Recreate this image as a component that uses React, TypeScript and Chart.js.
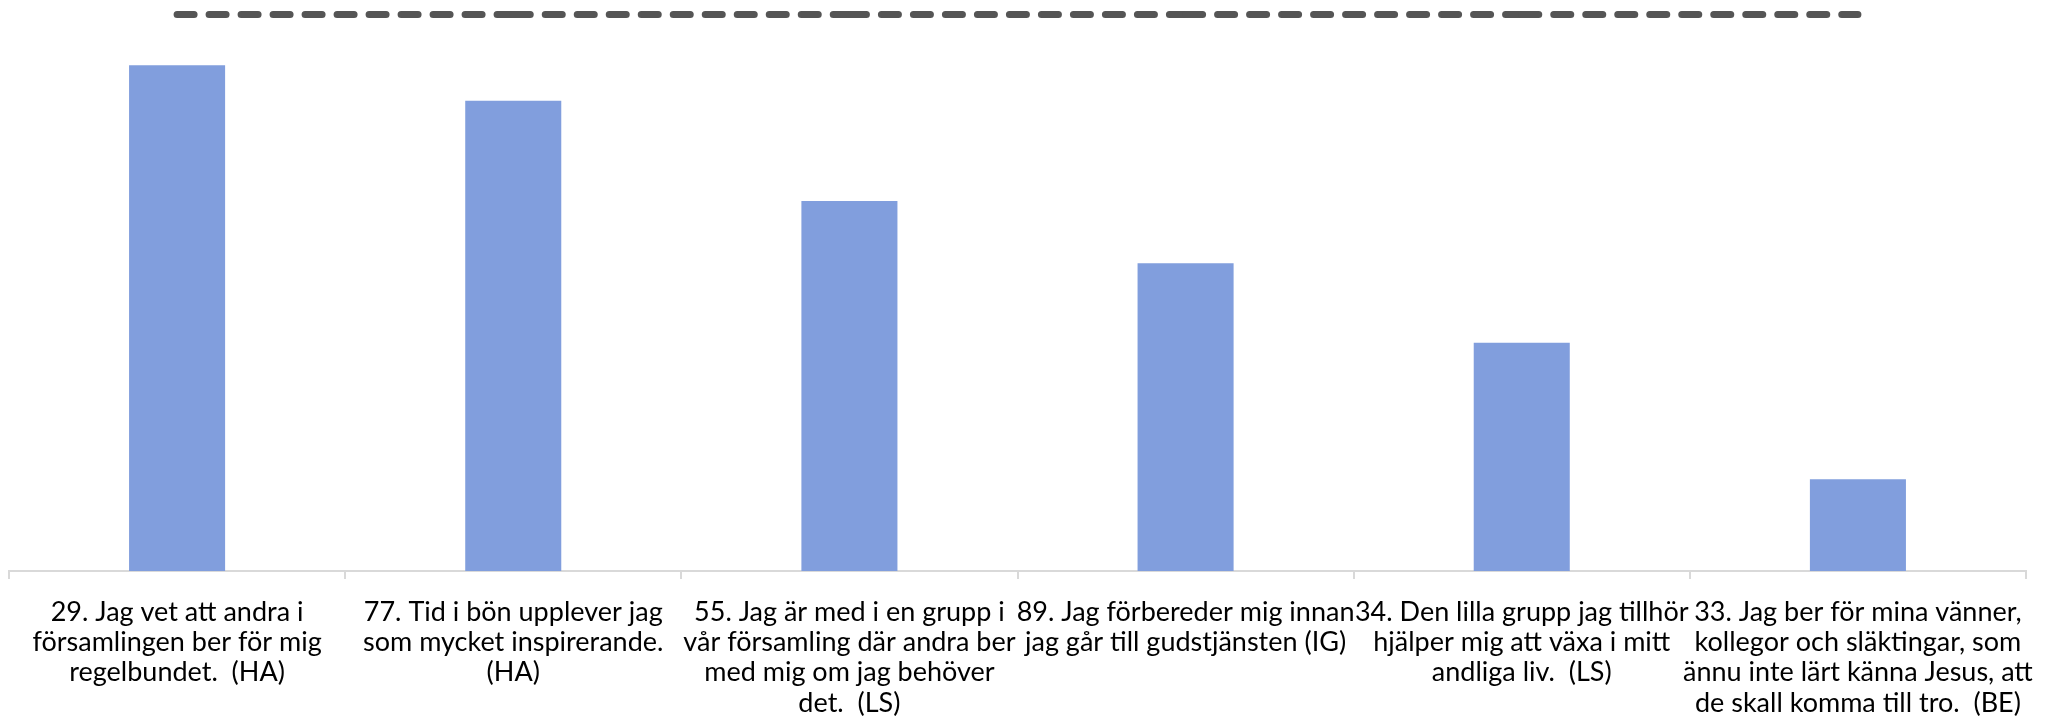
import React, { useEffect, useRef } from "react";
import { Chart, registerables } from "chart.js";

Chart.register(...registerables);

const categories: string[][] = [
  ["29. Jag vet att andra i", "församlingen ber för mig", "regelbundet.  (HA)"],
  ["77. Tid i bön upplever jag", "som mycket inspirerande.", "(HA)"],
  ["55. Jag är med i en grupp i", "vår församling där andra ber", "med mig om jag behöver", "det.  (LS)"],
  ["89. Jag förbereder mig innan", "jag går till gudstjänsten (IG)"],
  ["34. Den lilla grupp jag tillhör", "hjälper mig att växa i mitt", "andliga liv.  (LS)"],
  ["33. Jag ber för mina vänner,", "kollegor och släktingar, som", "ännu inte lärt känna Jesus, att", "de skall komma till tro.  (BE)"],
];

const barValues: number[] = [90.9, 84.5, 66.5, 55.3, 41.0, 16.5];
const targetValues: number[] = [100, 100, 100, 100, 100, 100];

export default function App() {
  const ref = useRef<HTMLCanvasElement>(null);

  useEffect(() => {
    if (!ref.current) return;
    const chart = new Chart(ref.current, {
      data: {
        labels: categories,
        datasets: [
          {
            type: "line",
            data: targetValues,
            borderColor: "#555555",
            borderWidth: 7,
            borderDash: [17, 15],
            borderCapStyle: "round",
            pointRadius: 0,
            pointHoverRadius: 0,
            clip: false,
            segment: {
              borderDashOffset: (ctx: any) => (ctx.p0DataIndex % 2 ? 0.0001 : 0),
            },
            order: 0,
          } as any,
          {
            type: "bar",
            data: barValues,
            backgroundColor: "#819EDD",
            borderWidth: 0,
            barPercentage: 0.2857,
            categoryPercentage: 1,
            order: 1,
          },
        ],
      },
      options: {
        animation: false,
        responsive: true,
        maintainAspectRatio: false,
        layout: { padding: { top: 6.5, left: 1, right: 20, bottom: 0 } },
        plugins: {
          legend: { display: false },
          tooltip: { enabled: false },
        },
        scales: {
          x: {
            offset: true,
            grid: {
              offset: true,
              drawOnChartArea: false,
              drawTicks: true,
              tickLength: 8,
              color: "#D9D9D9",
              lineWidth: 2,
            },
            border: { display: true, color: "#D9D9D9", width: 2 },
            ticks: {
              autoSkip: false,
              maxRotation: 0,
              minRotation: 0,
              padding: 18,
              color: "#000000",
              font: { family: "Lato, 'Noto Sans', sans-serif", size: 27, lineHeight: 1.12 },
            },
            afterFit: (scale: any) => {
              scale.height = 146;
              scale.paddingLeft = 0;
              scale.paddingRight = 0;
            },
          },
          y: {
            display: false,
            min: 0,
            max: 100,
          },
        },
      },
    });
    return () => chart.destroy();
  }, []);

  return (
    <div style={{ width: "100%", height: 709 }}>
      <canvas ref={ref} />
    </div>
  );
}
